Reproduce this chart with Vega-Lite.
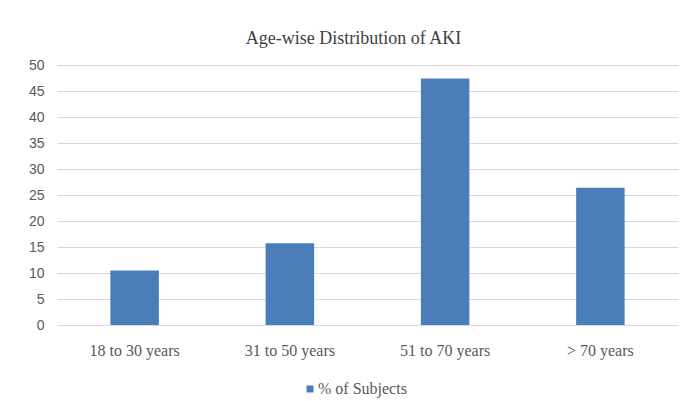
{
  "$schema": "https://vega.github.io/schema/vega-lite/v6.json",
  "autosize": "none",
  "width": 621,
  "height": 260,
  "padding": {"left": 57, "top": 65, "right": 6, "bottom": 76},
  "background": "white",
  "title": {
    "text": "Age-wise Distribution of AKI",
    "font": "Liberation Serif",
    "fontSize": 18,
    "fontWeight": "normal",
    "color": "#404040",
    "anchor": "middle",
    "frame": "group",
    "baseline": "alphabetic",
    "offset": 0,
    "dy": 4,
    "dx": -14
  },
  "data": {
    "values": [
      {"age": "18 to 30 years", "pct": 10.5, "series": "% of Subjects"},
      {"age": "31 to 50 years", "pct": 15.7, "series": "% of Subjects"},
      {"age": "51 to 70 years", "pct": 47.4, "series": "% of Subjects"},
      {"age": "> 70 years", "pct": 26.4, "series": "% of Subjects"}
    ]
  },
  "mark": {"type": "bar"},
  "encoding": {
    "x": {
      "field": "age",
      "type": "nominal",
      "sort": null,
      "scale": {"paddingInner": 0.6876, "paddingOuter": 0.3438},
      "axis": {
        "title": null,
        "labelAngle": 0,
        "labelFont": "Liberation Serif",
        "labelFontSize": 16,
        "labelColor": "#595959",
        "labelPadding": 17,
        "ticks": false,
        "tickSize": 0,
        "domain": false,
        "grid": false
      }
    },
    "y": {
      "field": "pct",
      "type": "quantitative",
      "scale": {"domain": [0, 50], "nice": false},
      "axis": {
        "title": null,
        "values": [0, 5, 10, 15, 20, 25, 30, 35, 40, 45, 50],
        "labelFont": "Liberation Sans",
        "labelFontSize": 14,
        "labelColor": "#595959",
        "labelPadding": 13,
        "ticks": false,
        "tickSize": 0,
        "domain": false,
        "grid": true,
        "gridColor": "#d9d9d9",
        "gridWidth": 1
      }
    },
    "color": {
      "field": "series",
      "type": "nominal",
      "scale": {"range": ["#4A7EBB"]},
      "legend": {
        "title": null,
        "orient": "none",
        "legendX": 245,
        "legendY": 316,
        "padding": 0,
        "symbolType": "square",
        "symbolSize": 49,
        "symbolStrokeWidth": 0,
        "labelFont": "Liberation Serif",
        "labelFontSize": 16,
        "labelColor": "#595959",
        "labelOffset": 0
      }
    }
  },
  "config": {
    "view": {"stroke": null}
  }
}
